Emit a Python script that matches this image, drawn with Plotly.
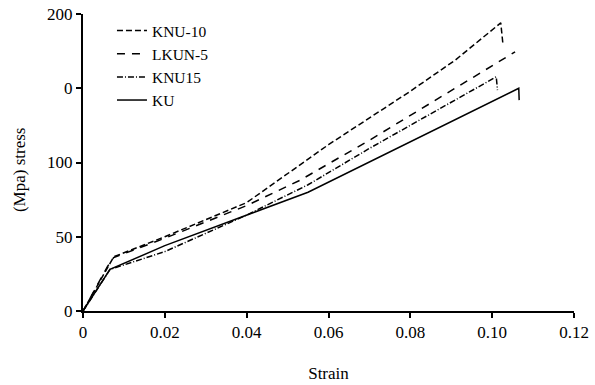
import plotly.graph_objects as go

# Data
knu10_strain = [0, 0.006, 0.0075, 0.02, 0.04, 0.06, 0.08, 0.091, 0.1021, 0.1026]
knu10_stress = [0, 30, 36.5, 50, 73, 112, 148, 169, 194, 180.5]

lkun5_strain = [0, 0.006, 0.0075, 0.02, 0.04, 0.053, 0.07, 0.1056]
lkun5_stress = [0, 30, 36, 49, 71, 88, 115, 174.5]

knu15_strain = [0, 0.0066, 0.02, 0.04, 0.055, 0.07, 0.1010, 0.1013]
knu15_stress = [0, 28, 40, 64.6, 85, 109.5, 157.7, 148.7]

ku_strain = [0, 0.0066, 0.02, 0.04, 0.055, 0.1065, 0.1066]
ku_stress = [0, 28, 44, 64.6, 80, 150, 142]

x_ticks = [0, 0.02, 0.04, 0.06, 0.08, 0.10, 0.12]
x_tick_text = ["0", "0.02", "0.04", "0.06", "0.08", "0.10", "0.12"]
y_ticks = [0, 50, 100, 150, 200]
y_tick_text = ["0", "50", "100", "0", "200"]

FONT = "Liberation Serif"

fig = go.Figure()
series = [
    ("KNU-10", knu10_strain, knu10_stress, "6px,3px"),
    ("LKUN-5", lkun5_strain, lkun5_stress, "8px,7px"),
    ("KNU15", knu15_strain, knu15_stress, "6px,2px,1px,2px"),
    ("KU", ku_strain, ku_stress, "solid"),
]
for name, xs, ys, dash in series:
    fig.add_trace(go.Scatter(x=xs, y=ys, mode="lines", name=name,
                             line=dict(color="black", width=1.5, dash=dash)))

tickfont = dict(family=FONT, size=17, color="black")
fig.update_layout(
    width=595, height=385,
    margin=dict(l=83, r=21, t=14, b=74, autoexpand=False),
    paper_bgcolor="white", plot_bgcolor="white",
    font=dict(family=FONT, size=17, color="black"),
    showlegend=True,
    legend=dict(x=0.059, y=1.0, xanchor="left", yanchor="top",
                bgcolor="rgba(0,0,0,0)",
                font=dict(family=FONT, size=15.5, color="black"),
                tracegroupgap=0),
    xaxis=dict(range=[0, 0.12], tickvals=x_ticks, ticktext=x_tick_text,
               tickfont=tickfont, automargin=False, ticklabeloverflow="allow",
               showline=True, linecolor="black", linewidth=2,
               ticks="outside", ticklen=5, tickwidth=2, tickcolor="black",
               showgrid=False, zeroline=False,
               title=dict(text="Strain", standoff=26,
                          font=dict(family=FONT, size=17, color="black"))),
    yaxis=dict(range=[0, 200], tickvals=y_ticks, ticktext=y_tick_text,
               tickfont=tickfont, automargin=False, ticklabeloverflow="allow",
               showline=True, linecolor="black", linewidth=2,
               ticks="outside", ticklen=5, tickwidth=2, tickcolor="black",
               showgrid=False, zeroline=False),
    annotations=[dict(text="(Mpa) stress", textangle=-90, showarrow=False,
                      xref="paper", yref="paper", x=-0.128, y=0.475,
                      xanchor="center", yanchor="middle",
                      font=dict(size=17, family=FONT, color="black"))],
)

fig.write_html("out.html", config={"displayModeBar": False},
               post_script="document.body.style.margin='0px';")
